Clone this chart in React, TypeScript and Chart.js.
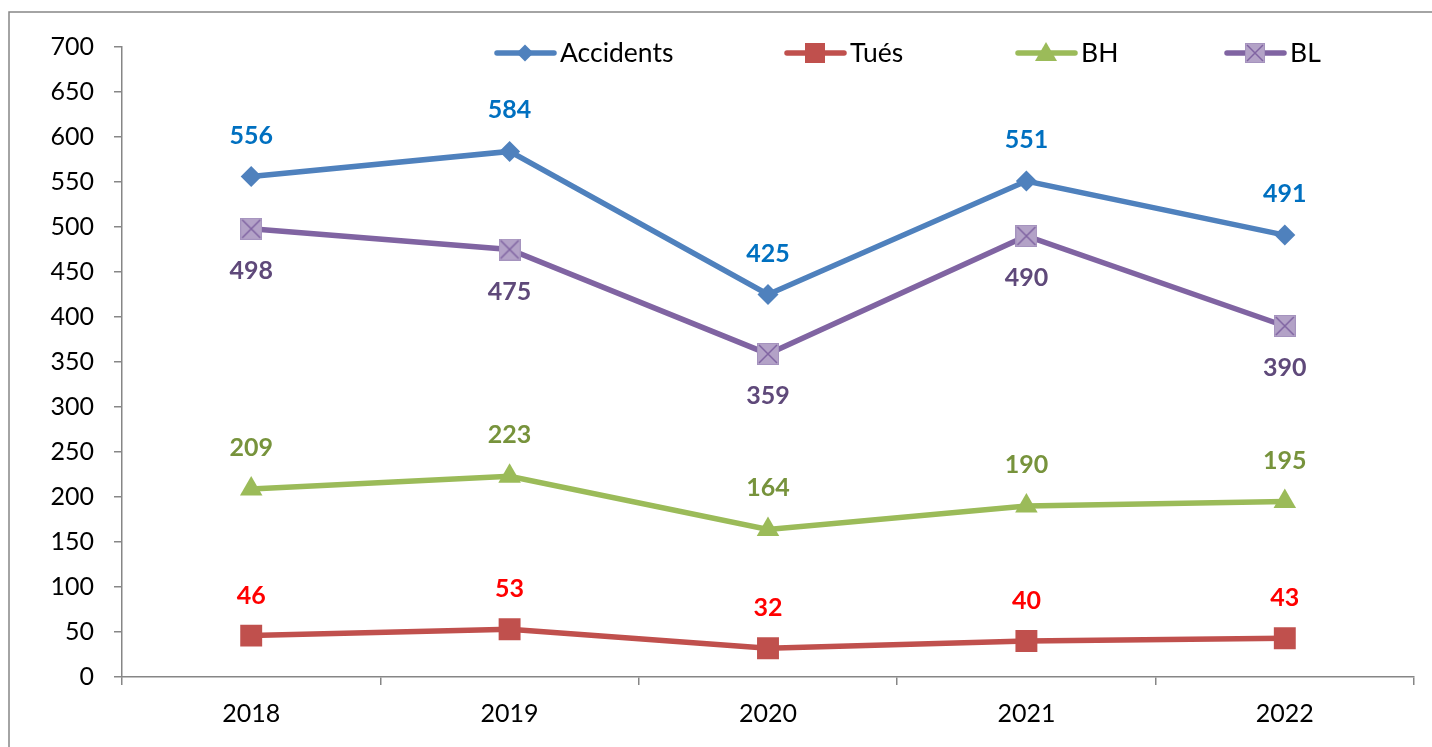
import React, { useEffect, useRef } from "react";
import { Chart, registerables } from "chart.js";

Chart.register(...registerables);

const years = ["2018", "2019", "2020", "2021", "2022"];
const accidents = [556, 584, 425, 551, 491];
const tues = [46, 53, 32, 40, 43];
const bh = [209, 223, 164, 190, 195];
const bl = [498, 475, 359, 490, 390];
const seriesNames = ["Accidents", "Tués", "BH", "BL"];
const lineColors = ["#4F81BD", "#C0504D", "#9BBB59", "#8064A2"];
const labelColors = ["#0070C0", "#FF0000", "#77933C", "#5F497A"];
const labelOffsets = [-41, -40, -41, 42];
const legendX = [495, 785, 1016, 1225];

const FONT = "Lato, 'Open Sans', sans-serif";

function makeBLMarker(size: number): HTMLCanvasElement {
  const c = document.createElement("canvas");
  c.width = size;
  c.height = size;
  const ctx = c.getContext("2d")!;
  ctx.fillStyle = "#B3A2C7";
  ctx.fillRect(0, 0, size, size);
  ctx.strokeStyle = "#A593BE";
  ctx.lineWidth = 1;
  ctx.strokeRect(0.5, 0.5, size - 1, size - 1);
  ctx.strokeStyle = "#8064A2";
  ctx.lineWidth = 1.5;
  ctx.beginPath();
  ctx.moveTo(2, 2);
  ctx.lineTo(size - 2, size - 2);
  ctx.moveTo(size - 2, 2);
  ctx.lineTo(2, size - 2);
  ctx.stroke();
  return c;
}

function drawMarker(ctx: CanvasRenderingContext2D, i: number, x: number, y: number, blImg: HTMLCanvasElement) {
  ctx.save();
  ctx.fillStyle = lineColors[i];
  if (i === 0) {
    const r = 8.5;
    ctx.beginPath();
    ctx.moveTo(x, y - r);
    ctx.lineTo(x + r, y);
    ctx.lineTo(x, y + r);
    ctx.lineTo(x - r, y);
    ctx.closePath();
    ctx.fill();
  } else if (i === 1) {
    ctx.fillRect(x - 10, y - 10, 20, 20);
  } else if (i === 2) {
    ctx.beginPath();
    ctx.moveTo(x, y - 11);
    ctx.lineTo(x + 11, y + 8);
    ctx.lineTo(x - 11, y + 8);
    ctx.closePath();
    ctx.fill();
  } else {
    ctx.drawImage(blImg, x - 10, y - 10, 20, 20);
  }
  ctx.restore();
}

export default function App() {
  const ref = useRef<HTMLCanvasElement | null>(null);

  useEffect(() => {
    if (!ref.current) return;
    const blPoint = makeBLMarker(22);
    const blLegend = makeBLMarker(20);

    const framePlugin = {
      id: "frame",
      beforeDraw(chart: any) {
        const ctx = chart.ctx;
        ctx.save();
        ctx.fillStyle = "#ffffff";
        ctx.fillRect(0, 0, chart.width, chart.height);
        ctx.strokeStyle = "#868686";
        ctx.lineWidth = 1.5;
        ctx.strokeRect(9, 12, chart.width + 20, chart.height + 20);
        ctx.restore();
      },
    };

    const labelPlugin = {
      id: "labels",
      afterDatasetsDraw(chart: any) {
        const ctx = chart.ctx;
        ctx.save();
        ctx.font = `bold 25px ${FONT}`;
        ctx.textAlign = "center";
        ctx.textBaseline = "middle";
        chart.data.datasets.forEach((ds: any, di: number) => {
          const meta = chart.getDatasetMeta(di);
          ctx.fillStyle = labelColors[di];
          meta.data.forEach((pt: any, j: number) => {
            ctx.fillText(String(ds.data[j]), pt.x, pt.y + labelOffsets[di]);
          });
        });
        ctx.restore();
      },
    };

    const legendPlugin = {
      id: "customLegend",
      afterDraw(chart: any) {
        const ctx = chart.ctx;
        ctx.save();
        ctx.font = `26.5px ${FONT}`;
        ctx.textBaseline = "middle";
        ctx.textAlign = "left";
        const y = 53;
        seriesNames.forEach((name, i) => {
          const x = legendX[i];
          ctx.strokeStyle = lineColors[i];
          ctx.lineWidth = 5.5;
          ctx.lineCap = "round";
          ctx.beginPath();
          ctx.moveTo(x + 2, y);
          ctx.lineTo(x + 59, y);
          ctx.stroke();
          drawMarker(ctx, i, x + 30, y, blLegend);
          ctx.fillStyle = "#000000";
          ctx.fillText(name, x + 65, y);
        });
        ctx.restore();
      },
    };

    const tickFont = { family: FONT, size: 25 };

    const chart = new Chart(ref.current, {
      type: "line",
      data: {
        labels: years,
        datasets: [
          {
            label: seriesNames[0],
            data: accidents,
            borderColor: lineColors[0],
            backgroundColor: lineColors[0],
            borderWidth: 5.5,
            pointStyle: "rectRot",
            pointRadius: 10.5,
            pointBorderWidth: 0,
          },
          {
            label: seriesNames[1],
            data: tues,
            borderColor: lineColors[1],
            backgroundColor: lineColors[1],
            borderWidth: 5.5,
            pointStyle: "rect",
            pointRadius: 15.5,
            pointBorderWidth: 0,
          },
          {
            label: seriesNames[2],
            data: bh,
            borderColor: lineColors[2],
            backgroundColor: lineColors[2],
            borderWidth: 5.5,
            pointStyle: "triangle",
            pointRadius: 13,
            pointBorderWidth: 0,
          },
          {
            label: seriesNames[3],
            data: bl,
            borderColor: lineColors[3],
            backgroundColor: "#B3A2C7",
            borderWidth: 5.5,
            pointStyle: blPoint as any,
            pointRadius: 11,
            pointBorderWidth: 0,
          },
        ],
      },
      options: {
        responsive: false,
        animation: false,
        devicePixelRatio: 1,
        layout: { padding: { top: 47, right: 18, left: 0, bottom: 0 } },
        plugins: {
          legend: { display: false },
          tooltip: { enabled: false },
        },
        scales: {
          x: {
            type: "category",
            offset: true,
            grid: {
              offset: true,
              drawOnChartArea: false,
              drawTicks: true,
              tickLength: 8,
              color: "#868686",
              lineWidth: 1.5,
            },
            border: { color: "#868686", width: 1.5 },
            ticks: { font: tickFont, color: "#000000", padding: 14, maxRotation: 0 },
            afterFit(scale: any) {
              scale.height = 70;
            },
          },
          y: {
            min: 0,
            max: 700,
            grid: {
              drawOnChartArea: false,
              drawTicks: true,
              tickLength: 8,
              color: "#868686",
              lineWidth: 1.5,
            },
            border: { color: "#868686", width: 1.5 },
            ticks: { stepSize: 50, font: tickFont, color: "#000000", padding: 20 },
            afterFit(scale: any) {
              scale.width = 122;
            },
          },
        },
      },
      plugins: [framePlugin, labelPlugin, legendPlugin],
    });

    return () => chart.destroy();
  }, []);

  return (
    <div style={{ position: "fixed", left: 0, top: 0, width: 1432, height: 747 }}>
      <canvas ref={ref} width={1432} height={747} style={{ width: 1432, height: 747 }} />
    </div>
  );
}
